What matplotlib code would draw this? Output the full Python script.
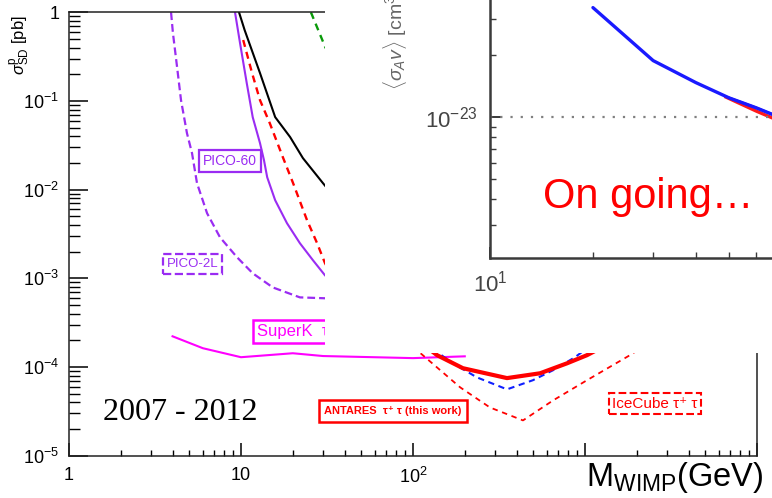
import matplotlib
matplotlib.use("Agg")
import matplotlib.pyplot as plt
from matplotlib.patches import Rectangle
from matplotlib.ticker import NullFormatter, LogLocator

plt.rcParams['font.family'] = ['Liberation Sans', 'DejaVu Sans']
plt.rcParams['mathtext.fontset'] = 'custom'
plt.rcParams['mathtext.rm'] = 'Liberation Sans'
plt.rcParams['mathtext.it'] = 'Liberation Sans:italic'
plt.rcParams['mathtext.bf'] = 'Liberation Sans:bold'

# spin-dependent WIMP-proton limits: mass [GeV], cross-section [pb]
pico2l_m = [3.92, 4.02, 4.25, 4.48, 4.85, 5.19, 5.55, 6.35, 7.55, 9.48, 11.7, 15.3,
            22.0, 30.8, 40.0]
pico2l_s = [1.0, 0.584, 0.241, 0.102, 0.0434, 0.0258, 0.0118, 5.42e-3, 2.9e-3,
            1.73e-3, 1.14e-3, 7.9e-4, 6.1e-4, 5.96e-4, 5.96e-4]

pico60_m = [9.23, 9.87, 10.8, 11.7, 12.9, 13.6, 14.2, 15.8, 18.5, 22.0, 26.2, 30.8, 40.0]
pico60_s = [1.0, 0.45, 0.159, 0.0656, 0.0334, 0.0215, 0.0138, 7.6e-3, 4.19e-3,
            2.49e-3, 1.6e-3, 1.08e-3, 7.0e-4]

black_m = [9.74, 10.5, 12.9, 15.8, 19.3, 22.9, 30.0, 40.0]
black_s = [1.0, 0.63, 0.206, 0.0658, 0.0392, 0.0227, 0.0118, 0.006]

reddash_m = [10.3, 11.6, 12.9, 14.7, 17.5, 20.1, 24.2, 27.7, 30.8, 40.0]
reddash_s = [0.487, 0.206, 0.102, 0.0562, 0.0233, 0.0118, 4.53e-3, 2.49e-3,
             1.48e-3, 6e-4]

green_m = [25.5, 30.8, 40.0]
green_s = [1.0, 0.41, 0.15]

superk_m = [4, 6, 10, 20, 30, 50, 100, 200]
superk_s = [2.22e-4, 1.63e-4, 1.29e-4, 1.43e-4, 1.33e-4, 1.3e-4, 1.26e-4, 1.32e-4]

antares_m = [100, 138, 195, 352, 548, 785, 1027, 1500]
antares_s = [2.2e-4, 1.36e-4, 9.7e-5, 7.5e-5, 8.5e-5, 1.1e-4, 1.36e-4, 2.0e-4]

bluedash_m = [130, 171, 235, 352, 498, 652, 875, 1100]
bluedash_s = [1.6e-4, 1.1e-4, 7.65e-5, 5.6e-5, 7.1e-5, 9.2e-5, 1.29e-4, 1.8e-4]

icecube_m = [90, 114, 188, 280, 436, 652, 1027, 1778, 2500]
icecube_s = [2e-4, 1.36e-4, 5.9e-5, 3.5e-5, 2.5e-5, 4.2e-5, 7.1e-5, 1.32e-4, 2.0e-4]

# annihilation cross-section panel: mass [GeV], <sigma v> [cm^3 s^-1]
ann_blue_m = [20, 30, 40, 50, 60, 70]
ann_blue_s = [3.4e-23, 1.88e-23, 1.47e-23, 1.24e-23, 1.11e-23, 1.0e-23]
ann_red_m = [49, 60, 70]
ann_red_s = [1.25e-23, 1.07e-23, 0.96e-23]

y_ticks = [1, 1e-1, 1e-2, 1e-3, 1e-4, 1e-5]
y_labels = ['1', '$10^{-1}$', '$10^{-2}$', '$10^{-3}$', '$10^{-4}$', '$10^{-5}$']
x_ticks = [1, 10, 100, 1000, 10000]
x_labels = ['1', '10', '$10^{2}$', '', '']

W, H = 772, 498
fig = plt.figure(figsize=(W / 100, H / 100), dpi=100)


def fx(x):
    return x / W


def fy(y):
    return 1 - y / H


PURPLE = '#9a2cf2'
MAGENTA = '#ff00ff'
RED = '#ff0000'

ax = fig.add_axes([fx(69), fy(455.7), fx(757 - 69), (455.7 - 12.3) / H])
ax.set_zorder(0)
ax.set_xscale('log')
ax.set_yscale('log')
ax.set_xlim(1, 1e4)
ax.set_ylim(1e-5, 1)

ax.plot(pico2l_m, pico2l_s, color=PURPLE, lw=1.6, ls=(0, (3.5, 1.8)))
ax.plot(pico60_m, pico60_s, color=PURPLE, lw=1.5)
ax.plot(black_m, black_s, color='black', lw=1.5)
ax.plot(reddash_m, reddash_s, color=RED, lw=1.7, ls=(0, (3, 2.2)))
ax.plot(green_m, green_s, color='#0a9a0a', lw=1.7, ls=(0, (3, 2.2)))
ax.plot(superk_m, superk_s, color=MAGENTA, lw=1.5)
ax.plot(icecube_m, icecube_s, color=RED, lw=1.3, ls=(0, (3, 2.6)))
ax.plot(bluedash_m, bluedash_s, color='#1020ff', lw=1.5, ls=(0, (3, 2.2)))
ax.plot(antares_m, antares_s, color=RED, lw=3.0)

for side in ax.spines.values():
    side.set_linewidth(1.1)
    side.set_color('#222222')

ax.set_yticks(y_ticks)
ax.set_yticklabels(y_labels)
ax.set_xticks(x_ticks)
ax.set_xticklabels(x_labels)
ax.yaxis.set_minor_locator(LogLocator(base=10, subs=range(2, 10), numticks=20))
ax.xaxis.set_minor_locator(LogLocator(base=10, subs=range(2, 10), numticks=20))
ax.yaxis.set_minor_formatter(NullFormatter())
ax.xaxis.set_minor_formatter(NullFormatter())
ax.tick_params(axis='y', which='major', direction='in', length=14, width=1.1,
               labelsize=13, pad=7)
ax.tick_params(axis='y', which='minor', direction='in', length=8, width=1.0)
ax.tick_params(axis='x', which='major', direction='in', length=9.5, width=1.1,
               labelsize=13, pad=8)
ax.tick_params(axis='x', which='minor', direction='in', length=4.5, width=1.0)

ax.text(fx(20), fy(45), r'$\sigma^{\rm p}_{\rm SD}$ [pb]', transform=fig.transFigure,
        rotation=90, ha='center', va='center', fontsize=12)

# experiment tags
ax.text(fx(230), fy(161), 'PICO-60', transform=fig.transFigure, color=PURPLE,
        fontsize=10, ha='center', va='center',
        bbox=dict(boxstyle='square,pad=0.3', fc='white', ec=PURPLE, lw=1.6))
ax.text(fx(192.5), fy(264), 'PICO-2L', transform=fig.transFigure, color=PURPLE,
        fontsize=9.5, ha='center', va='center',
        bbox=dict(boxstyle='square,pad=0.3', fc='white', ec=PURPLE, lw=1.6, ls='--'))
ax.text(fx(257), fy(331.5), 'SuperK  τ⁺τ⁻', transform=fig.transFigure, color=MAGENTA,
        fontsize=12, ha='left', va='center',
        bbox=dict(boxstyle='square,pad=0.25', fc='white', ec=MAGENTA, lw=1.8))
ax.text(fx(393), fy(411), 'ANTARES  τ⁺ τ (this work)', transform=fig.transFigure,
        color=RED, fontsize=8, fontweight='bold', ha='center', va='center',
        bbox=dict(boxstyle='square,pad=0.5', fc='white', ec=RED, lw=1.8))
ax.text(fx(655), fy(403.5), 'IceCube τ⁺ τ', transform=fig.transFigure, color=RED,
        fontsize=11, ha='center', va='center',
        bbox=dict(boxstyle='square,pad=0.2', fc='white', ec=RED, lw=1.5, ls='--'))
ax.text(fx(103), fy(412), '2007 - 2012', transform=fig.transFigure,
        family='Liberation Serif', fontsize=23, ha='left', va='center')

# white panel for the annihilation plot
cover = Rectangle((fx(325), fy(353)), 1 - fx(325), 353 / H, transform=fig.transFigure,
                  fc='white', ec='none', zorder=1)
fig.add_artist(cover)

ann_w, ann_h = 400, 300
dec_x, dec_y = 342, 206
y_low = -23.684
axi = fig.add_axes([fx(490), fy(258), ann_w / W, ann_h / H])
axi.set_zorder(2)
axi.patch.set_alpha(0)
axi.set_xscale('log')
axi.set_yscale('log')
axi.set_xlim(10, 10 ** (1 + ann_w / dec_x))
axi.set_ylim(10 ** y_low, 10 ** (y_low + ann_h / dec_y))
axi.axhline(1e-23, color='#808080', lw=1.6, ls=(0, (1, 3.6)))
axi.plot(ann_blue_m, ann_blue_s, color='#1a1aff', lw=2.4, solid_capstyle='round')
axi.plot(ann_red_m, ann_red_s, color='#ff1a1a', lw=2.4, zorder=1.9)
axi.plot(ann_blue_m[3:], ann_blue_s[3:], color='#1a1aff', lw=1.8)
for s in ['top', 'right']:
    axi.spines[s].set_visible(False)
for s in ['left', 'bottom']:
    axi.spines[s].set_color('#3a3a3a')
    axi.spines[s].set_linewidth(1.8)
axi.set_yticks([1e-23])
axi.set_yticklabels(['$10^{-23}$'])
axi.set_xticks([10, 100])
axi.set_xticklabels(['$10^{1}$', ''])
axi.yaxis.set_minor_locator(LogLocator(base=10, subs=range(2, 10), numticks=20))
axi.xaxis.set_minor_locator(LogLocator(base=10, subs=range(2, 10), numticks=20))
axi.yaxis.set_minor_formatter(NullFormatter())
axi.xaxis.set_minor_formatter(NullFormatter())
axi.tick_params(which='major', direction='in', length=8, width=1.4, color='#3a3a3a',
                labelsize=16, labelcolor='#444444', pad=9)
axi.tick_params(which='minor', direction='in', length=4, width=1.0, color='#3a3a3a')

fig.text(fx(395), fy(90), r'$\langle\sigma_A v\rangle$ [cm$^3$ s$^{-1}$]', rotation=90,
         ha='center', va='bottom', fontsize=14, color='#666666', zorder=3)
fig.text(fx(648), fy(197), 'On going…', color=RED, fontsize=30,
         ha='center', va='center', zorder=3)
fig.text(fx(586), fy(486), r'M$_{\rm WIMP}$(GeV)', fontsize=23.5, ha='left',
         va='baseline', zorder=3)

fig.savefig('out.png', dpi=100)
